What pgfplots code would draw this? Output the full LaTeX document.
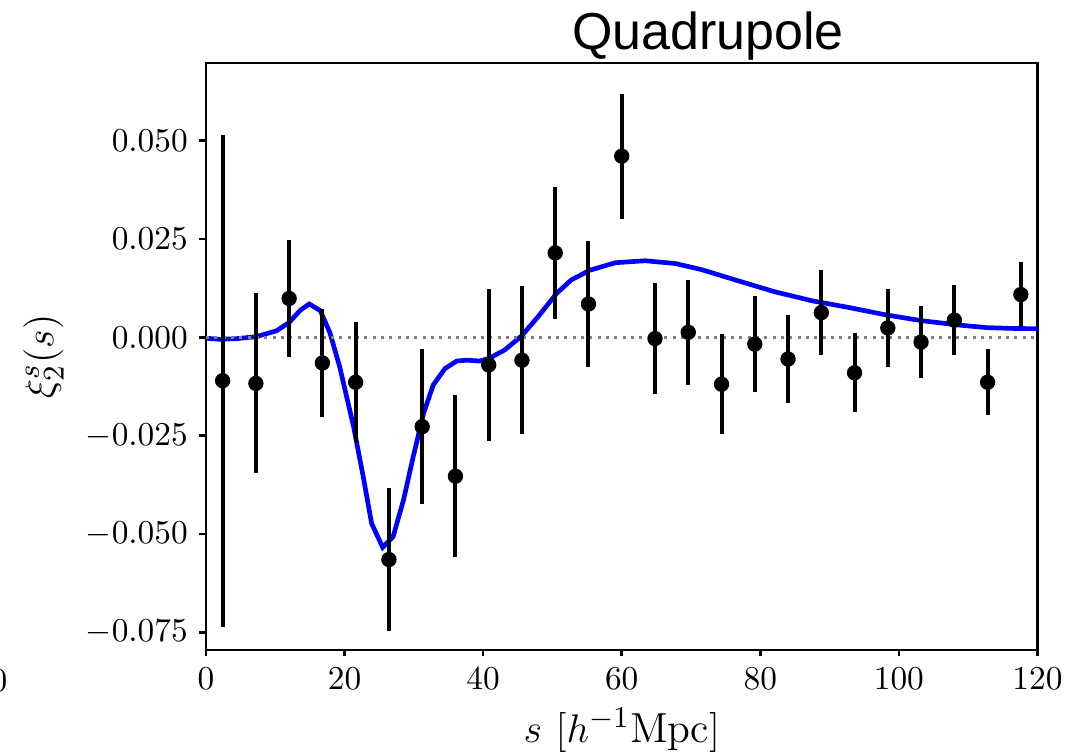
\documentclass[border=0pt]{standalone}
\usepackage{fontspec}
\usepackage{pgfplots}
\pgfplotsset{compat=1.18}
\usepackage{pgfplotstable}
\newfontfamily\titlefont{Liberation Sans}

\pgfplotstableread{
x y e
2.4 -0.0110 0.0626
7.2 -0.0117 0.0229
12.0 0.0099 0.0148
16.8 -0.0065 0.0138
21.6 -0.0114 0.0152
26.4 -0.0565 0.0182
31.2 -0.0227 0.0197
36.0 -0.0353 0.0206
40.8 -0.0070 0.0194
45.6 -0.0058 0.0188
50.4 0.0215 0.0168
55.2 0.0085 0.0161
60.0 0.0461 0.0159
64.8 -0.0003 0.0141
69.6 0.0013 0.0133
74.4 -0.0119 0.0127
79.2 -0.0017 0.0123
84.0 -0.0055 0.0112
88.8 0.0063 0.0108
93.6 -0.0090 0.0100
98.4 0.0024 0.0100
103.2 -0.0012 0.0092
108.0 0.0044 0.0090
112.8 -0.0114 0.0084
117.6 0.0109 0.0082
}\data

\pgfplotstableread{
x y
0.0 -0.0002
2.0 -0.0005
4.5 -0.0003
7.3 0.0002
10.2 0.0017
12.0 0.0038
13.6 0.0069
14.9 0.0085
16.5 0.0068
17.9 0.0011
19.3 -0.0075
21.3 -0.0227
22.7 -0.0355
23.9 -0.0473
25.5 -0.0534
27.0 -0.0507
28.5 -0.0414
29.9 -0.0304
31.4 -0.0193
32.8 -0.0121
34.5 -0.0079
36.2 -0.0060
37.6 -0.0058
39.5 -0.0060
40.9 -0.0053
43.1 -0.0032
45.5 0.0003
47.9 0.0052
50.6 0.0112
52.7 0.0146
55.4 0.0171
59.1 0.0190
63.4 0.0195
67.7 0.0188
71.4 0.0173
76.8 0.0144
82.1 0.0116
87.5 0.0093
92.8 0.0076
98.2 0.0057
103.5 0.0042
108.9 0.0031
112.6 0.0025
116.0 0.0023
120.0 0.0022
}\curve

\begin{document}
\begin{tikzpicture}
\begin{axis}[
  at={(0pt,0pt)}, anchor=south west,
  scale only axis, width=249.45pt, height=176.1pt,
  xmin=0, xmax=120, ymin=-0.0795, ymax=0.0698,
  xtick={0,20,40,60,80,100,120},
  ytick={-0.075,-0.05,-0.025,0,0.025,0.05},
  yticklabel style={/pgf/number format/.cd, fixed, fixed zerofill, precision=3},
  scaled y ticks=false,
  tick align=outside, xtick pos=bottom, ytick pos=left,
  major tick length=1.95pt,
  every tick/.style={black, line width=0.8pt},
  axis line style={line width=0.8pt},
  ticklabel style={font=\fontsize{10.2}{12}\selectfont},
  label style={font=\fontsize{12.6}{15}\selectfont},
  xlabel={$s\ [h^{-1}\mathrm{Mpc}]$},
  ylabel={$\xi_2^s(s)$},
  xlabel style={at={(axis description cs:0.5,-0.157)}, anchor=base},
  ylabel style={at={(axis description cs:-0.1954,0.5)}, anchor=center},
]
\addplot[blue, line width=1.4pt] table[x=x,y=y] {\curve};
\addplot[gray, line width=0.9pt, dash pattern=on 0.9pt off 1.6pt] coordinates {(0,0) (120,0)};
\addplot[black, only marks, mark=*, mark size=2.1pt,
  error bars/.cd, y dir=both, y explicit, error mark=none,
  error bar style={line width=1.2pt, black}]
  table[x=x, y=y, y error=e] {\data};
\end{axis}
\node[font=\titlefont\fontsize{15.6}{18}\selectfont, anchor=base] at (150.6pt,180pt) {Quadrupole};
\node[font=\fontsize{10.2}{12}\selectfont, anchor=base east, inner sep=0pt] at (-59.4pt,-12.45pt) {$120$};
\pgfresetboundingbox
\useasboundingbox (-61.8pt,-31.5pt) rectangle (260.4pt,195pt);
\end{tikzpicture}
\end{document}
